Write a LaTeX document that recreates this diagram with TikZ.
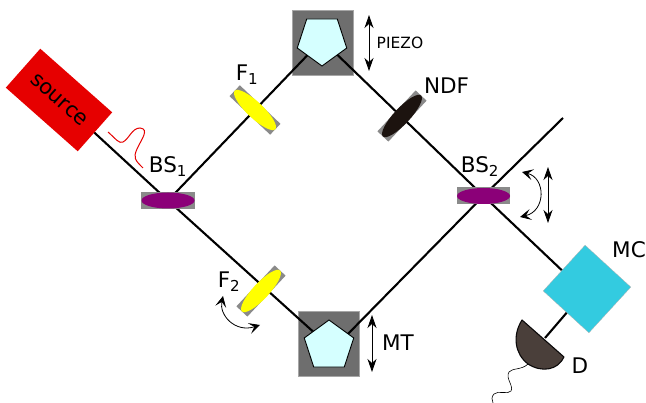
\documentclass[tikz,border=0pt]{standalone}
\usepackage{fontspec}
\setmainfont{DejaVu Sans}
\usetikzlibrary{arrows.meta,shapes.geometric}
\pgfdeclarelayer{back}
\pgfdeclarelayer{beamlayer}
\pgfsetlayers{back,beamlayer,main}
\definecolor{greyboxc}{HTML}{6E6E6E}
\definecolor{mountc}{HTML}{8A8A8A}
\definecolor{prismc}{HTML}{D5FFFF}
\definecolor{srcc}{HTML}{E60000}
\definecolor{purp}{HTML}{8B0078}
\definecolor{yel}{HTML}{FFFF00}
\definecolor{ndfc}{HTML}{1C130F}
\definecolor{mcc}{HTML}{33CBE0}
\definecolor{detc}{HTML}{4A3F3A}
\tikzset{
  x=1pt,y=-1pt,
  beam/.style={line width=2.1pt,black},
  greybox/.style={rectangle,fill=greyboxc,draw=gray!70,line width=.4pt,minimum width=61pt,minimum height=65pt,inner sep=0},
  prism/.style={regular polygon,regular polygon sides=5,draw=black,line width=.9pt,fill=prismc,minimum size=52pt,inner sep=0},
  mount/.style={rectangle,fill=mountc,minimum width=#1,minimum height=17pt,inner sep=0},
  lens/.style n args={2}{ellipse,fill=#1,minimum width=#2,minimum height=16pt,inner sep=0},
  lbl/.style={inner sep=0,font=\fontsize{21.5}{22}\selectfont},
  move/.style={line width=.9pt,{Stealth[length=13pt,width=9pt,inset=4pt]}-{Stealth[length=13pt,width=9pt,inset=4pt]}},
  turn/.style={line width=.8pt,{Stealth[length=11pt,width=11pt,inset=5pt]}-{Stealth[length=11pt,width=11pt,inset=5pt]}},
}
\begin{document}
\begin{tikzpicture}
\useasboundingbox (0,0) rectangle (646,403);
% source
\node[rectangle,fill=srcc,minimum width=96pt,minimum height=52pt,inner sep=0,rotate=-41.5,font=\fontsize{21}{21}\selectfont] (source) at (59,100) {source};
% prisms
\begin{pgfonlayer}{back}
\node[greybox] (topbox) at (322.5,42.5) {};
\node[greybox] (botbox) at (328.5,343.5) {};
\end{pgfonlayer}
\node[prism,shape border rotate=180] (top) at (322,40) {};
\node[prism] (bot) at (329,346) {};
% mounts and optics
\node[mount=54pt] (bs1m) at (168,200.5) {};
\node[lens={purp}{53pt}] (bs1) at (168,200.5) {};
\node[mount=53pt] (bs2m) at (483.5,196) {};
\node[lens={purp}{53pt}] (bs2) at (483.5,196) {};
\node[mount=56pt,minimum height=15pt,rotate=-43.5] (f1m) at (255,110) {};
\node[lens={yel}{56pt},rotate=-43.5] (f1) at (255,110) {};
\node[mount=56pt,minimum height=15pt,rotate=47] (ndfm) at (402,116) {};
\node[lens={ndfc}{56pt},rotate=47] (ndf) at (402,116) {};
\node[mount=56pt,minimum height=15pt,rotate=47] (f2m) at (261,291) {};
\node[lens={yel}{56pt},rotate=47] (f2) at (261,291) {};
% MC and detector
\node[rectangle,fill=mcc,draw=gray!60,line width=.3pt,minimum width=62pt,minimum height=62pt,inner sep=0,rotate=-42.5] (mc) at (587,289) {};
\draw[line width=1.1pt,draw=black!85!detc,fill=detc,line join=round] (522,320) .. controls (512,336) and (515,354) .. (528,364) .. controls (542,373) and (558,370) .. (564,357) -- cycle;
\coordinate (det) at (545,338);
\coordinate (mtin) at (342,340);
\coordinate (mcin) at (570,278);
\coordinate (exit) at (563,118);
\coordinate (wireA) at (528,364);
\coordinate (wireB) at (493,403);
% beams
\begin{pgfonlayer}{beamlayer}
\draw[beam] (source.center) -- (bs1.center);
\draw[beam] (bs1.center) -- (top.center);
\draw[beam] (bs1.center) -- (bot.center);
\draw[beam] (top.center) -- (bs2.center);
\draw[beam] (mtin) -- (bs2.center) -- (exit);
\draw[beam] (bs2.center) -- (mcin);
\draw[beam] (mc.center) -- (det);
\end{pgfonlayer}
% pulse and wire
\draw[red!90!black,line width=1pt] (108,132) .. controls (116,139) and (119,144) .. (123,142) .. controls (129,139) and (132,128) .. (140,128) .. controls (150,129) and (141,140) .. (137,149) .. controls (133,158) and (135,160) .. (143,168);
\draw[line width=.6pt] (wireA) .. controls (522,370) and (512,368) .. (509,372) .. controls (505,378) and (514,386) .. (511,391) .. controls (508,395) and (498,390) .. (494,394) .. controls (491,397) and (492,400) .. (wireB);
% arrows
\coordinate (pzA) at (369,15); \coordinate (pzB) at (369,71);
\coordinate (mtA) at (372,315); \coordinate (mtB) at (372,372);
\coordinate (bsA) at (548,167); \coordinate (bsB) at (548,223);
\coordinate (cA) at (522,172); \coordinate (cB) at (520,217);
\coordinate (dA) at (223,296); \coordinate (dB) at (260,325);
\draw[move] (pzA) -- (pzB);
\draw[move] (mtA) -- (mtB);
\draw[move] (bsA) -- (bsB);
\draw[turn] (cA) .. controls (546,178) and (546,211) .. (cB);
\draw[turn] (dA) .. controls (219,315) and (235,333) .. (dB);
% labels
\node[lbl] (lbs1) at (168,166.5) {BS\textsubscript{1}};
\node[lbl] (lbs2) at (480,166.5) {BS\textsubscript{2}};
\node[lbl] (lf1) at (247,75) {F\textsubscript{1}};
\node[lbl] (lf2) at (229,282) {F\textsubscript{2}};
\node[lbl] (lndf) at (446.5,86) {NDF};
\node[lbl] (lmt) at (398,343) {MT};
\node[lbl] (lmc) at (629,250) {MC};
\node[lbl] (ld) at (580,366) {D};
\node[inner sep=0,font=\fontsize{15.5}{16}\selectfont] (lp) at (400,43) {PIEZO};
\end{tikzpicture}
\end{document}
